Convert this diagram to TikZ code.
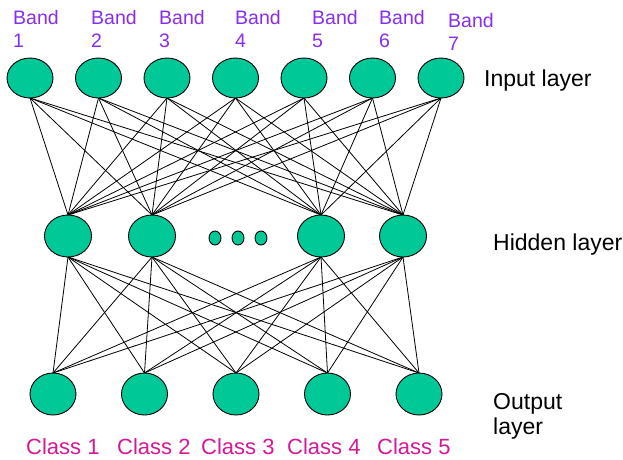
\documentclass[tikz,border=0pt]{standalone}
\usepackage{fontspec}
\setmainfont{Liberation Sans}
\usetikzlibrary{shapes.geometric,backgrounds}
\definecolor{neuron}{RGB}{0,200,150}
\definecolor{bandcol}{RGB}{135,45,235}
\definecolor{classcol}{RGB}{212,25,150}
\begin{document}
\begin{tikzpicture}[x=1pt,y=-1pt,
  neuronbox/.style={ellipse,draw=black,line width=0.9pt,fill=neuron,inner sep=0pt,outer sep=0pt},
  inunit/.style={neuronbox,minimum width=46pt,minimum height=40pt},
  hidunit/.style={neuronbox,minimum width=47pt,minimum height=42pt},
  outunit/.style={neuronbox,minimum width=46pt,minimum height=42pt},
  dotunit/.style={neuronbox,minimum width=12pt,minimum height=14pt},
  link/.style={draw=black,line width=0.8pt},
  bandlabel/.style={anchor=base west,inner sep=0pt,text=bandcol,font=\fontsize{19.5}{23}\selectfont},
  classlabel/.style={anchor=base west,inner sep=0pt,text=classcol,font=\fontsize{22}{25}\selectfont},
  layerlabel/.style={anchor=base west,inner sep=0pt,text=black,font=\fontsize{23}{25}\selectfont}]
\useasboundingbox (0,0) rectangle (623,459);

% units
\foreach \i/\x in {1/30,2/98.5,3/167,4/235.5,5/304,6/372.5,7/441}
  \node[inunit] (in\i) at (\x,78) {};
\foreach \i/\x in {1/68,2/152,3/321,4/403}
  \node[hidunit] (hid\i) at (\x,236) {};
\foreach \i/\x in {1/53,2/144.5,3/236,4/327.5,5/419}
  \node[outunit] (out\i) at (\x,394) {};
% ellipsis between hidden units
\foreach \i/\x in {1/215,2/238,3/261}
  \node[dotunit] (dot\i) at (\x,238) {};

% full connections, behind the units
\begin{scope}[on background layer]
\foreach \i in {1,...,7}
  \foreach \j in {1,...,4}
    \draw[link] (in\i.south) -- (hid\j.north);
\foreach \j in {1,...,4}
  \foreach \k in {1,...,5}
    \draw[link] (hid\j.south) -- (out\k.north);
\end{scope}

% band labels
\foreach \i/\x/\y in {1/13/24,2/91/24,3/159/24,4/235/24,5/312/24,6/379/24,7/448/27}{
  \node[bandlabel] (band\i) at (\x,\y) {Band};
  \node[bandlabel] (bandnum\i) at (\x,\y+23) {\i};
}

% class labels
\foreach \i/\x in {1/26,2/117,3/201,4/287,5/377}
  \node[classlabel] (class\i) at (\x,454) {Class \i};

% layer labels
\node[layerlabel] (inlab) at (484,86) {Input layer};
\node[layerlabel] (hidlab) at (493,250) {Hidden layer};
\node[layerlabel] (outlab1) at (493,409) {Output};
\node[layerlabel] (outlab2) at (493,434) {layer};
\end{tikzpicture}
\end{document}
